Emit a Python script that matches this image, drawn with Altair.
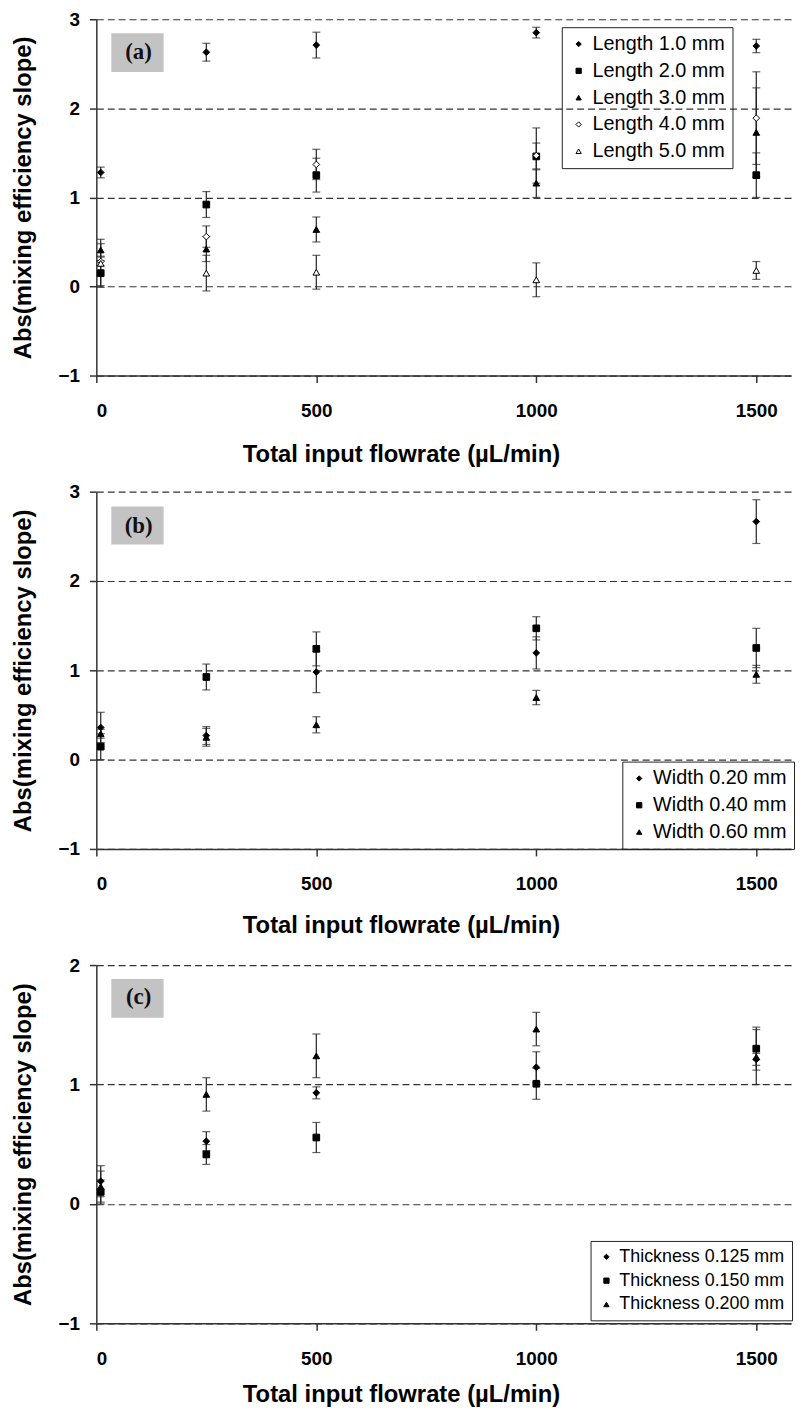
import altair as alt
import pandas as pd

FLOW = [10, 250, 500, 1000, 1500]

# ---------- Panel (a) ----------
A_SERIES = ["Length 1.0 mm", "Length 2.0 mm", "Length 3.0 mm", "Length 4.0 mm", "Length 5.0 mm"]
A_Y = [
    [1.28, 2.63, 2.71, 2.85, 2.70],
    [0.15, 0.92, 1.25, 1.46, 1.25],
    [0.41, 0.42, 0.64, 1.16, 1.73],
    [0.28, 0.56, 1.37, 1.47, 1.89],
    [0.26, 0.15, 0.16, 0.075, 0.18],
]
A_ERR = [
    [0.06, 0.10, 0.145, 0.06, 0.075],
    [0.14, 0.145, 0.19, 0.15, 0.25],
    [0.07, 0.14, 0.14, 0.16, 0.50],
    [0.05, 0.12, 0.17, 0.31, 0.52],
    [0.27, 0.20, 0.19, 0.19, 0.10],
]
A_SHAPES = ["diamond", "square", "triangle-up", "diamond", "triangle-up"]
A_FILLS = ["black", "black", "black", "white", "white"]

# ---------- Panel (b) ----------
B_SERIES = ["Width 0.20 mm", "Width 0.40 mm", "Width 0.60 mm"]
B_Y = [
    [0.36, 0.27, 0.98, 1.195, 2.665],
    [0.145, 0.925, 1.24, 1.47, 1.25],
    [0.29, 0.25, 0.39, 0.695, 0.955],
]
B_ERR = [
    [0.17, 0.10, 0.23, 0.18, 0.245],
    [0.145, 0.145, 0.19, 0.13, 0.22],
    [0.05, 0.10, 0.09, 0.08, 0.10],
]
B_SHAPES = ["diamond", "square", "triangle-up"]
B_FILLS = ["black", "black", "black"]

# ---------- Panel (c) ----------
C_SERIES = ["Thickness 0.125 mm", "Thickness 0.150 mm", "Thickness 0.200 mm"]
C_Y = [
    [0.19, 0.525, 0.93, 1.144, 1.21],
    [0.10, 0.414, 0.556, 1.006, 1.30],
    [0.145, 0.917, 1.24, 1.464, 1.23],
]
C_ERR = [
    [0.13, 0.08, 0.05, 0.13, 0.05],
    [0.10, 0.083, 0.126, 0.13, 0.18],
    [0.13, 0.14, 0.183, 0.14, 0.23],
]
C_SHAPES = ["diamond", "square", "triangle-up"]
C_FILLS = ["black", "black", "black"]

# ---------- Panel tag boxes (data coordinates) ----------
TAG_TEXT = ["(a)", "(b)", "(c)"]
TAG_X = [34, 153]
TAG_XTEXT = 96
TAG_Y = [[2.844, 2.409], [2.833, 2.409], [1.883, 1.558]]
TAG_YTEXT = [2.632, 2.61, 1.728]

X_TITLE = "Total input flowrate (\u00b5L/min)"
Y_TITLE = "Abs(mixing efficiency slope)"
FONT = "Liberation Sans"


def long_df(series, ys, errs):
    rows = []
    for s, yy, ee in zip(series, ys, errs):
        for x, y, e in zip(FLOW, yy, ee):
            rows.append({"x": x, "y": y, "lo": y - e, "hi": y + e, "series": s})
    return pd.DataFrame(rows)


def panel(series, ys, errs, shapes, fills, ydom, yvals, height, leg, idx, xtitle_y):
    df = long_df(series, ys, errs)
    xs = alt.Scale(domain=[0, 1579], nice=False, zero=False)
    ys_ = alt.Scale(domain=ydom, nice=False, zero=False)
    xaxis = alt.Axis(values=[0, 500, 1000, 1500], grid=False, title=X_TITLE, format="d",
                     titleX=307, titleY=xtitle_y, titleAlign="center", titleBaseline="middle",
                     labelPadding=19)
    yaxis = alt.Axis(values=yvals, grid=True, gridDash=[7, 4], gridColor="#333", format="d",
                     gridWidth=1.2, title=Y_TITLE, titleX=-73, titleY=height / 2,
                     titleAlign="center", titleBaseline="middle", titleAngle=270,
                     labelPadding=10)
    base = alt.Chart(df)
    rules = base.mark_rule(color="#222", strokeWidth=1.2).encode(
        x=alt.X("x:Q", scale=xs, axis=xaxis),
        y=alt.Y("lo:Q", scale=ys_, axis=yaxis),
        y2="hi:Q",
    )
    cap_lo = base.mark_tick(orient="horizontal", size=8, thickness=1.2, color="#222").encode(
        x="x:Q", y="lo:Q")
    cap_hi = base.mark_tick(orient="horizontal", size=8, thickness=1.2, color="#222").encode(
        x="x:Q", y="hi:Q")
    legend = alt.Legend(orient="none", legendX=leg["x"], legendY=leg["y"], title=None,
                        strokeColor="#222", padding=7, labelFont=FONT,
                        labelFontSize=leg["fs"], labelColor="black", symbolSize=28,
                        symbolStrokeColor="black", symbolStrokeWidth=1, rowPadding=leg["rp"],
                        labelOffset=4, symbolOffset=0, labelLimit=300)
    pts = base.mark_point(filled=True, size=45, strokeWidth=1, opacity=1).encode(
        x="x:Q", y="y:Q",
        shape=alt.Shape("series:N", scale=alt.Scale(domain=series, range=shapes), legend=legend),
        fill=alt.Fill("series:N", scale=alt.Scale(domain=series, range=fills), legend=legend),
        stroke=alt.Stroke("series:N", scale=alt.Scale(domain=series,
                                                      range=["black"] * len(series)),
                          legend=legend),
    )
    tag_df = pd.DataFrame({"x": [TAG_X[0]], "x2": [TAG_X[1]], "y": [TAG_Y[idx][0]],
                           "y2": [TAG_Y[idx][1]], "xt": [TAG_XTEXT], "yt": [TAG_YTEXT[idx]],
                           "t": [TAG_TEXT[idx]]})
    tag_box = alt.Chart(tag_df).mark_rect(fill="#bcbcbc", opacity=0.9).encode(
        x="x:Q", x2="x2:Q", y="y:Q", y2="y2:Q")
    tag_txt = alt.Chart(tag_df).mark_text(font="Liberation Serif", fontWeight="bold",
                                          fontSize=23, color="#111").encode(
        x="xt:Q", y="yt:Q", text="t:N")
    return alt.layer(tag_box, tag_txt, rules, cap_lo, cap_hi, pts).properties(
        width=700, height=height)


pa = panel(A_SERIES, A_Y, A_ERR, A_SHAPES, A_FILLS, [-1, 3], [-1, 0, 1, 2, 3], 359,
           {"x": 469, "y": 8, "fs": 20, "rp": 7}, 0, 80)
pb = panel(B_SERIES, B_Y, B_ERR, B_SHAPES, B_FILLS, [-1, 3], [-1, 0, 1, 2, 3], 360,
           {"x": 530, "y": 272, "fs": 20, "rp": 7}, 1, 77)
pc = panel(C_SERIES, C_Y, C_ERR, C_SHAPES, C_FILLS, [-1, 2], [-1, 0, 1, 2], 361,
           {"x": 498, "y": 278, "fs": 18, "rp": 6}, 2, 72)

chart = alt.vconcat(pa, pb, pc, spacing=117, bounds="flush").resolve_scale(
    x="independent", y="independent", shape="independent", fill="independent",
    stroke="independent"
).resolve_legend(shape="independent", fill="independent", stroke="independent").properties(
    padding={"left": 3, "top": -3, "right": 0, "bottom": 0}
).configure_view(stroke=None).configure_axis(
    domainColor="#333", domainWidth=1.5, tickColor="#333", tickSize=7, tickWidth=1.5,
    labelFont=FONT, labelFontWeight="bold", labelFontSize=19, labelColor="black",
    titleFont=FONT, titleFontWeight="bold", titleFontSize=24, titleColor="black",
)

chart.save("out.html", embed_options={"renderer": "svg", "actions": False})
